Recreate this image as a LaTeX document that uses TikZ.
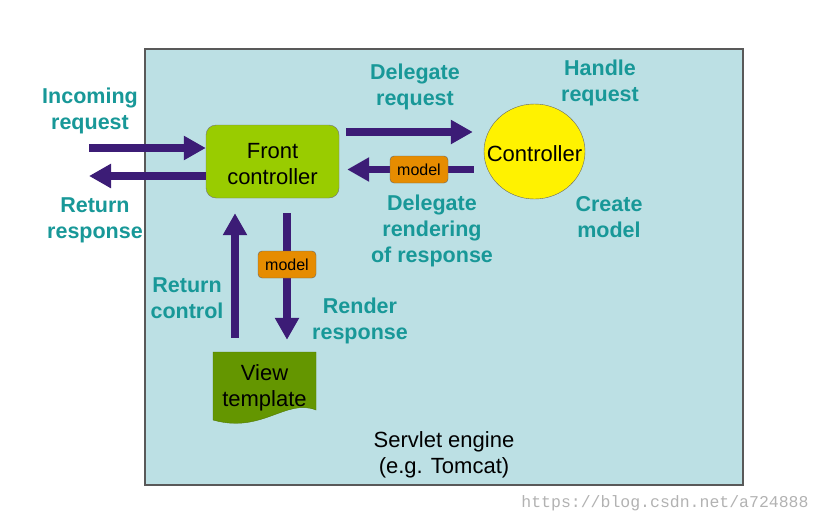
\documentclass[tikz,border=0pt]{standalone}
\usepackage{fontspec}
\setmainfont{Liberation Sans}
\setmonofont{Liberation Mono}
\usetikzlibrary{positioning,arrows.meta,shapes.geometric}

\definecolor{enginebg}{RGB}{188,224,228}
\definecolor{labteal}{RGB}{24,152,152}
\definecolor{arrpurple}{RGB}{60,28,118}
\definecolor{fcgreen}{RGB}{153,204,0}
\definecolor{viewgreen}{RGB}{100,150,0}
\definecolor{modelorange}{RGB}{230,140,0}

\begin{document}
\begin{tikzpicture}[x=1pt, y=-1pt,
  lab/.style={text=labteal, font=\fontsize{21.5}{26}\selectfont\bfseries, align=center, inner sep=0pt, yshift=-2.5pt},
  txt/.style={font=\fontsize{22}{26}\selectfont, align=center, inner sep=0pt, yshift=-2.5pt},
  box/.style={draw=black!55, thin, rounded corners=10pt},
  modelbox/.style={draw=black!60, fill=modelorange, rounded corners=4pt, minimum width=58pt, minimum height=27pt, inner sep=0pt, font=\fontsize{16}{18}\selectfont},
  arr/.style={-{Triangle[length=22pt,width=23pt]}, line width=7.5pt, draw=arrpurple}
]
\useasboundingbox (0,0) rectangle (821,525);
\node[draw=black!65, line width=1.3pt, fill=enginebg, minimum width=598pt, minimum height=436pt, inner sep=0pt] (engine) at (444,267) {};

\node[box, fill=fcgreen, minimum width=133pt, minimum height=73pt,
  label={[txt]center:Front\\controller}] (fc) at (272.5,161.5) {};
\node[ellipse, draw=black!60, fill=yellow, minimum width=101pt, minimum height=95pt, inner sep=0pt,
  label={[txt]center:Controller}] (ctrl) at (534.5,151.5) {};

% view template page
\fill[viewgreen, draw=viewgreen!80!black] (213,352) -- (316,352) -- (316,410) .. controls (286,398) and (262,434) .. (213,420) -- cycle;
\node[txt, minimum width=103pt, minimum height=66pt] (view) at (264.5,385) {View\\template};

\coordinate (inL) at (89,148);
\coordinate (outL) at (89,176);
\coordinate (delc) at (400,132);
\coordinate (m1c) at (419,169.5);
\coordinate (m2c) at (287,264.5);
\coordinate (upc) at (235,280);

\draw[arr] (inL) -- (fc.west |- inL);
\draw[arr] (fc.west |- outL) -- (outL);
\draw[arr, shorten <=7pt, shorten >=11pt] (fc.east |- delc) -- (ctrl.west |- delc);
\draw[arr, shorten <=10pt, shorten >=8pt] (ctrl.west |- m1c) -- (fc.east |- m1c);
\draw[arr, shorten <=15pt, shorten >=14.5pt] (fc.south -| m2c) -- (view.north -| m2c);
\draw[arr, shorten <=16.5pt, shorten >=15pt] (view.north -| upc) -- (fc.south -| upc);
\node[modelbox] (m1) at (m1c) {model};
\node[modelbox] (m2) at (m2c) {model};

\node[lab] (incoming) at (90,108) {Incoming\\request};
\node[lab] (retresp) at (95,217.5) {Return\\response};
\node[lab] (delreq) at (415,84) {Delegate\\request};
\node[lab] (handle) at (600,80) {Handle\\request};
\node[lab] (delrend) at (432,228) {Delegate\\rendering\\of response};
\node[lab] (create) at (609,214.5) {Create\\model};
\node[lab] (retctrl) at (187,296) {Return\\control};
\node[lab] (render) at (360,318) {Render\\response};

\node[txt] (enginetxt) at (444,452) {Servlet engine\\(e.g. Tomcat)};
\node[text=black!30, font=\ttfamily\fontsize{16.5}{18}\selectfont, inner sep=0pt] (mark) at (665,503) {https://blog.csdn.net/a724888};
\end{tikzpicture}
\end{document}
